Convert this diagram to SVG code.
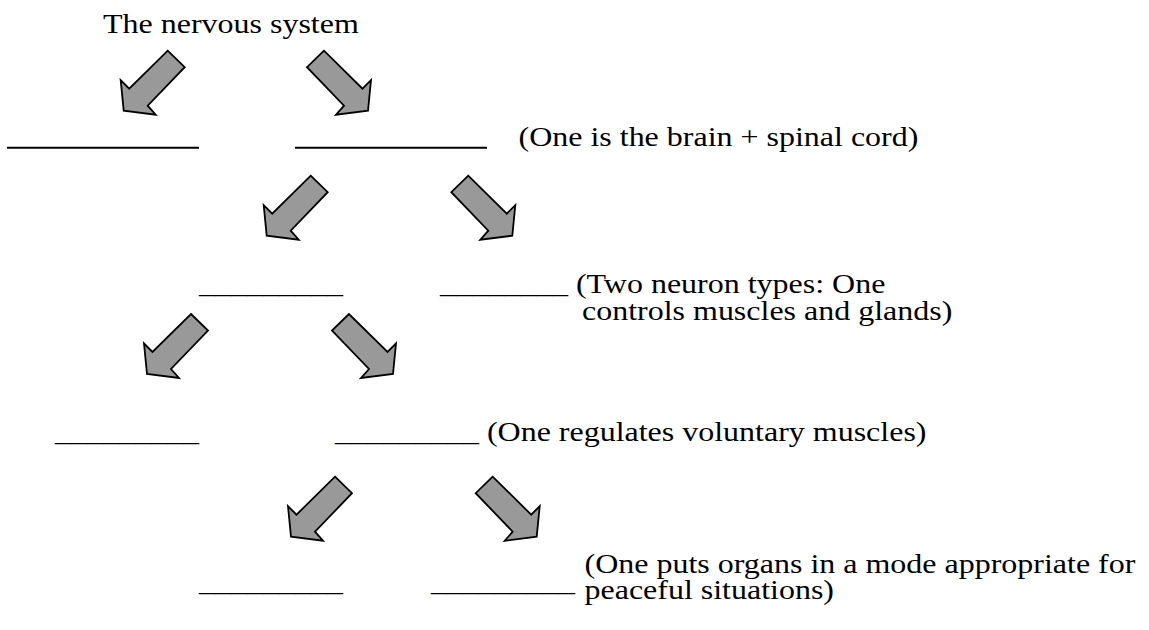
<svg xmlns="http://www.w3.org/2000/svg" width="1149" height="630" viewBox="0 0 1149 630">
  <style>
    .t { font-family: "Liberation Serif", "Times New Roman", serif; font-size: 32px; fill: #000; }
    .arrow { fill: #999999; stroke: #000; stroke-width: 1.8; stroke-linejoin: miter; }
    .rule { stroke: #000; stroke-width: 2; }
  </style>
  <defs>
    <path id="arrowDL" class="arrow" d="M0,0 L17,16.5 L-20,55 L-12,64 L-44,60 L-47,29.5 L-38.5,38 Z"/>
    <path id="arrowDR" class="arrow" d="M0,0 L-17,16.5 L20,55 L12,64 L44,60 L47,29.5 L38.5,38 Z"/>
  </defs>
  <rect width="1149" height="630" fill="#ffffff"/>

  <g id="title">
    <text class="t" transform="translate(103,33.3) scale(1,0.875)">The nervous system</text>
  </g>

  <g id="row1-left">
    <line class="rule" x1="7" y1="147.7" x2="199" y2="147.7"/>
  </g>
  <g id="row1-right">
    <line class="rule" x1="295" y1="147.7" x2="487" y2="147.7"/>
    <text class="t" transform="translate(518.5,146) scale(1,0.875)">(One is the brain + spinal cord)</text>
  </g>

  <g id="row2-left">
    <text class="t" transform="translate(199,293) scale(1,0.875)">_________</text>
  </g>
  <g id="row2-right">
    <text class="t" transform="translate(440,293) scale(1,0.875)"><tspan x="0" y="0">________ (Two neuron types: One</tspan><tspan x="142" y="30.9">controls muscles and glands)</tspan></text>
  </g>

  <g id="row3-left">
    <text class="t" transform="translate(55,440.5) scale(1,0.875)">_________</text>
  </g>
  <g id="row3-right">
    <text class="t" transform="translate(335,440.5) scale(1,0.875)">_________ (One regulates voluntary muscles)</text>
  </g>

  <g id="row4-left">
    <text class="t" transform="translate(199,590.5) scale(1,0.875)">_________</text>
  </g>
  <g id="row4-right">
    <text class="t" transform="translate(431,590.5) scale(1,0.875)">_________</text>
    <text class="t" transform="translate(584.5,572.5) scale(1,0.875)"><tspan x="0" y="0">(One puts organs in a mode appropriate for</tspan><tspan x="0" y="30.3">peaceful situations)</tspan></text>
  </g>

  <g id="connectors">
    <use href="#arrowDL" transform="translate(167.7,50.7)"/>
    <use href="#arrowDR" transform="translate(324,50.7)"/>
    <use href="#arrowDL" transform="translate(310.7,175.7)"/>
    <use href="#arrowDR" transform="translate(468.3,175.7)"/>
    <use href="#arrowDL" transform="translate(191,314)"/>
    <use href="#arrowDR" transform="translate(349,314)"/>
    <use href="#arrowDL" transform="translate(335,476.7)"/>
    <use href="#arrowDR" transform="translate(492.7,476.7)"/>
  </g>
</svg>
